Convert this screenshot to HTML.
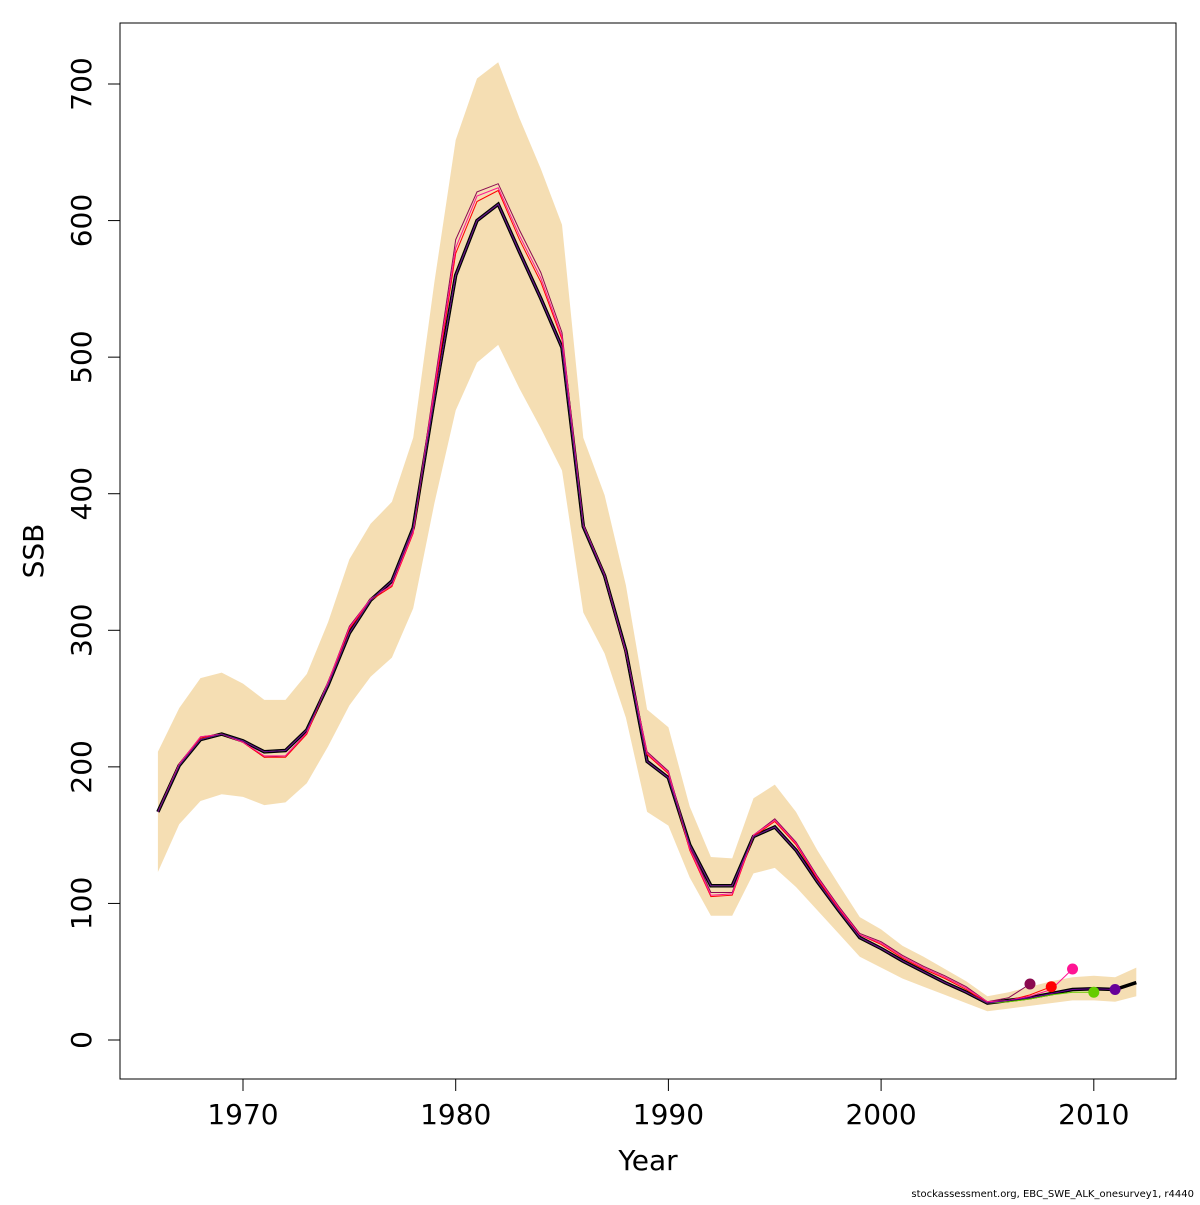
<!DOCTYPE html>
<html><head><meta charset="utf-8"><style>
body{margin:0;background:#fff}
svg text{font-family:"DejaVu Sans","Liberation Sans",sans-serif}
</style></head><body>
<svg id="c" width="1200" height="1200" xmlns="http://www.w3.org/2000/svg">
<rect x="0" y="0" width="1200" height="1200" fill="#fff"/>
<g id="plot"></g>
<rect x="120" y="23" width="1056" height="1056" fill="none" stroke="#000" stroke-width="1"/>
<g id="axes"></g>
<text x="648" y="1170" font-size="28" text-anchor="middle">Year</text>
<text transform="translate(43,551) rotate(-90)" font-size="28" text-anchor="middle">SSB</text>
<text x="1194" y="1197" font-size="10" text-anchor="end">stockassessment.org, EBC_SWE_ALK_onesurvey1, r4440</text>
</svg>
<script>
const years=[1966,1967,1968,1969,1970,1971,1972,1973,1974,1975,1976,1977,1978,1979,1980,1981,1982,1983,1984,1985,1986,1987,1988,1989,1990,1991,1992,1993,1994,1995,1996,1997,1998,1999,2000,2001,2002,2003,2004,2005,2006,2007,2008,2009,2010,2011,2012];
const ssbFinal=[167,201,220,224,219,211,212,227,260,298,322,336,375,470,560,600,612,577,543,507,376,340,285,204,192,143,113,113,149,156,139,116,95,75,67,58,50,42,35,27,29,31,34,37,37.5,37,42];
const ssbUpper=[211,243,265,269,261,249,249,268,306,352,378,394,441,555,659,704,716,675,638,597,441,399,333,242,229,171,134,133,177,187,167,139,114,90,81,69,61,52,43,32,35,39,43,46,47,46,53];
const ssbLower=[123,158,175,180,178,172,174,188,215,245,266,280,316,393,461,496,509,477,448,417,313,283,236,167,157,119,91,91,122,126,112,95,78,61,53,45,39,33,27,21,23,25,27,29,29,28,32];
const peel2007=[167,202,222,224,218,207,208,225,262,303,323,333,373,480,586,621,627,593,562,518,377,341,285,211,197,142,108,108,150,162,145,120,98,78,72,62,54,47,39,28,31,41];
const peel2008=[167,202,221,224,218,207,207,224,261,301,322,332,371,474,576,614,622,586,555,513,376,340,284,209,195,139,105,106,149,160,143,118,96,77,70,60,52,45,37,27,29,33,39];
const peel2009=[167,202,222,224,218,208,208,225,262,302,323,333,372,477,580,618,624,589,558,515,377,340,284,210,196,140,106,107,150,161,144,119,97,77,71,61,53,46,38,28,29,32,37,52];
const peel2010=[167,201,220,224,219,211,212,227,260,298,322,336,375,470,560,600,612,577,543,507,376,340,285,204,192,143,113,113,149,156,139,116,95,75,67,58,50,42,35,27,28,30,33,35,35];
const peel2011=[167,201,220,224,219,211,212,227,260,298,322,336,375,470,560,600,612,577,543,507,376,340,285,204,192,143,113,113,149,156,139,116,95,75,67,58,50,42,35,27,29,31,34,37,37.5,37];
const xTicks=[1970,1980,1990,2000,2010];
const yTicks=[0,100,200,300,400,500,600,700];
const peelColors=["#8B0A50","#FF0000","#FF1493","#66CC00","#660099"];
const NS="http://www.w3.org/2000/svg";
function X(yr){return 243+(yr-1970)*21.27;}
function Y(v){return 1040-v*1.3657;}
const plot=document.getElementById('plot'),axes=document.getElementById('axes');
function mk(t,a,p){const e=document.createElementNS(NS,t);for(const k in a)e.setAttribute(k,a[k]);(p||plot).appendChild(e);return e;}
function pts(arr){return arr.map((v,i)=>X(years[i]).toFixed(1)+","+Y(v).toFixed(1));}
let band=pts(ssbUpper).concat(pts(ssbLower).reverse());
const b=mk('polygon',{points:band.join(' '),fill:'#F5DEB3',stroke:'none'});


const peels=[peel2007,peel2008,peel2009,peel2010,peel2011];
const peelNames=['peel-2007','peel-2008','peel-2009','peel-2010','peel-2011'];
const fl=mk('polyline',{points:pts(ssbFinal).join(' '),fill:'none',stroke:'#000','stroke-width':3.5});


peels.forEach((p,k)=>{
 const l=mk('polyline',{points:pts(p).join(' '),fill:'none',stroke:peelColors[k],'stroke-width':1});
 
 
});
peels.forEach((p,k)=>{
 const i=p.length-1;
 const c=mk('circle',{cx:X(years[i]),cy:Y(p[i]),r:5.5,fill:peelColors[k]});
 
 
});
mk('line',{x1:X(1970),x2:X(2010),y1:1079,y2:1079,stroke:'#000'},axes);
xTicks.forEach(t=>{
 mk('line',{x1:X(t),x2:X(t),y1:1079,y2:1091,stroke:'#000'},axes);
 const tx=mk('text',{x:X(t),y:1124,'font-size':28,'text-anchor':'middle'},axes);tx.textContent=t;
 
 
});
mk('line',{x1:120,x2:120,y1:Y(0),y2:Y(700),stroke:'#000'},axes);
yTicks.forEach(t=>{
 mk('line',{x1:108,x2:120,y1:Y(t),y2:Y(t),stroke:'#000'},axes);
 const tx=mk('text',{transform:`translate(91,${Y(t)}) rotate(-90)`,'font-size':28,'text-anchor':'middle'},axes);tx.textContent=t;
 
 
});
</script>
</body></html>
